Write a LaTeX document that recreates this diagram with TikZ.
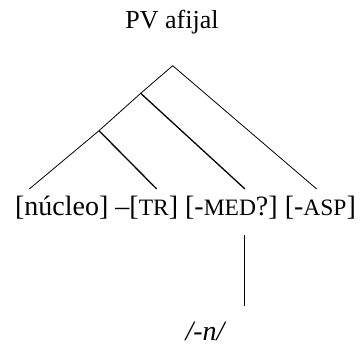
\documentclass[tikz,border=0pt]{standalone}
\usepackage{fontspec}
\setmainfont{Liberation Serif}
\newcommand{\fsc}[1]{{\fontsize{23.5pt}{26pt}\selectfont #1}}
\begin{document}
\begin{tikzpicture}[x=1pt,y=-1pt,
  lbl/.style={inner sep=0pt,font=\fontsize{26pt}{30pt}\selectfont},
  rowlbl/.style={inner sep=0pt,font=\fontsize{28pt}{32pt}\selectfont},
  thin/.style={line width=0.8pt},
  thick2/.style={line width=1.3pt}]
\useasboundingbox (0,0) rectangle (364,356);
\node[lbl,anchor=base] (top) at (172,28) {PV afijal};
\coordinate (r) at (172.7,65.7);
\coordinate (n2) at (140.7,93.3);
\coordinate (n3) at (99,130.7);
\coordinate (e1) at (29.3,189);
\coordinate (e2) at (156.7,189);
\coordinate (e3) at (245,189);
\coordinate (e4) at (316.7,189);
\node[rowlbl,anchor=base] (row) at (185.5,215) {[núcleo] –[\fsc{TR}] [-\fsc{MED}?] [-\fsc{ASP}]};
\coordinate (v1) at (244.3,235);
\coordinate (v2) at (244.3,306);
\node[rowlbl,anchor=base,font=\fontsize{28pt}{32pt}\selectfont\itshape] (n) at (205,340) {/-n/};
\draw[thin] (e1) -- (n3) -- (n2) -- (r) -- (e4);
\draw[thick2] (n3) -- (e2);
\draw[thick2] (n2) -- (e3);
\draw[thin] (v1) -- (v2);
\end{tikzpicture}
\end{document}
